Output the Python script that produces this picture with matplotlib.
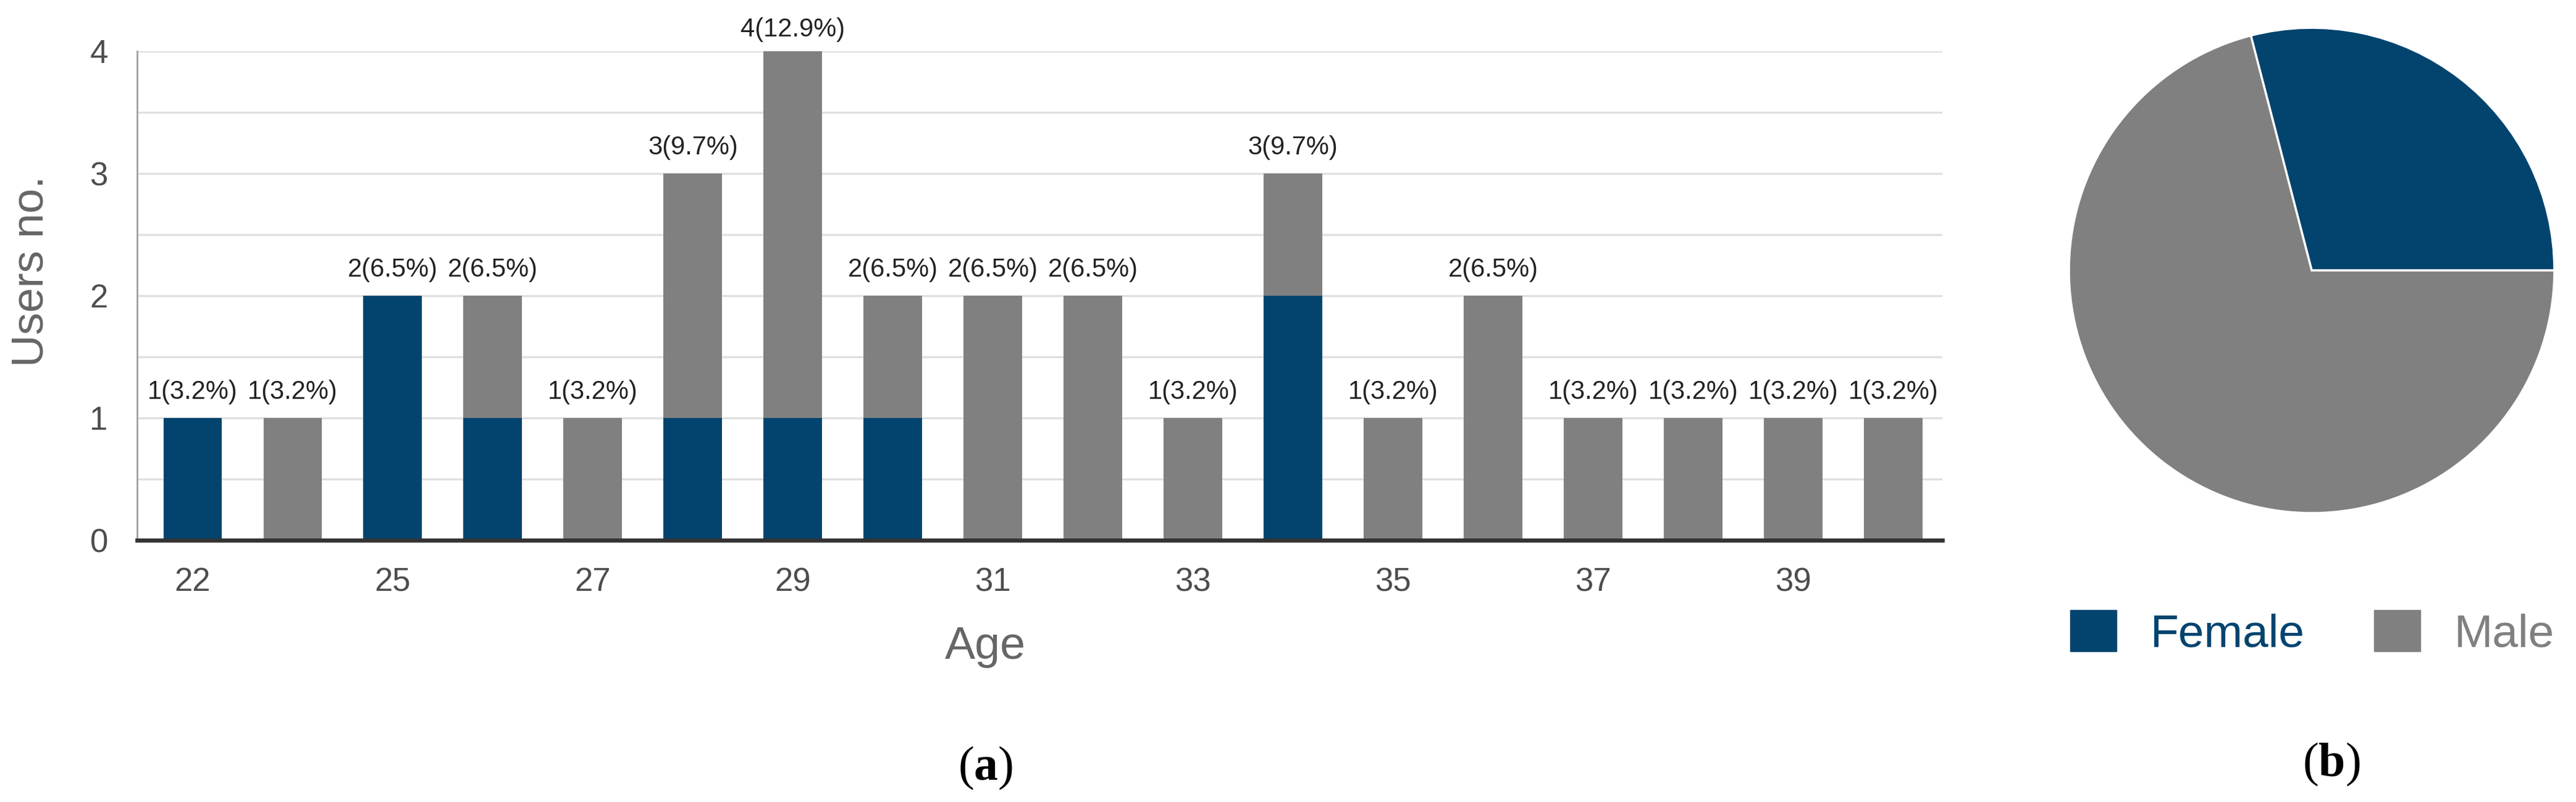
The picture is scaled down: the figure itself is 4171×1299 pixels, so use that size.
import matplotlib
matplotlib.use("Agg")
from matplotlib import pyplot as plt
from matplotlib.patches import Patch
import numpy as np

plt.rcParams['font.family'] = ['Liberation Sans', 'DejaVu Sans']
plt.rcParams['mathtext.fontset'] = 'custom'
plt.rcParams['mathtext.rm'] = 'Liberation Serif'
plt.rcParams['mathtext.bf'] = 'Liberation Serif:bold'

# data
ages = ['22', '24', '25', '26', '27', '28', '29', '30', '31',
        '32', '33', '34', '35', '36', '37', '38', '39', '40']
female = [1, 0, 2, 1, 0, 1, 1, 1, 0, 0, 0, 2, 0, 0, 0, 0, 0, 0]
male = [0, 1, 0, 1, 1, 2, 3, 1, 2, 2, 1, 1, 1, 2, 1, 1, 1, 1]
tick_ages = ['22', '25', '27', '29', '31', '33', '35', '37', '39']
genders = ['Female', 'Male']

BLUE = '#03446f'
GRAY = '#808080'

W, H = 4171, 1299
fig = plt.figure(figsize=(W / 100, H / 100), dpi=100)

# ---- (a) stacked bars ----
ax = fig.add_axes([222 / W, 1 - 875 / H, (3145 - 222) / W, (875 - 83) / H])
x = np.arange(len(ages))
female = np.array(female)
male = np.array(male)
total = female + male
n_users = total.sum()

ax.bar(x, female, width=0.585, color=BLUE, zorder=2)
ax.bar(x, male, width=0.585, bottom=female, color=GRAY, zorder=2)

for xi, t in zip(x, total):
    # top label is squeezed closer to its bar, as in the original
    pad = 11 if t == total.max() else 16
    ax.annotate('%d(%.1f%%)' % (t, 100.0 * t / n_users), (xi, t),
                xytext=(0, pad), textcoords='offset points',
                ha='center', va='bottom', fontsize=30, color='#222222')

ax.set_xlim(-0.555, len(ages) - 0.51)
ax.set_ylim(0, 4)
ax.set_yticks([0, 1, 2, 3, 4])
ax.set_yticks(np.arange(0.5, 4, 1.0), minor=True)
ax.set_xticks([ages.index(a) for a in tick_ages])
ax.set_xticklabels(tick_ages)
ax.grid(axis='y', which='both', color='#e0e0e0', lw=2.4, zorder=0)
ax.tick_params(axis='both', which='both', length=0, labelsize=38,
               labelcolor='#4d4d4d')
ax.tick_params(axis='y', pad=34)
ax.tick_params(axis='x', pad=31)
for s in ['top', 'right']:
    ax.spines[s].set_visible(False)
ax.spines['left'].set_color('#a0a0a0')
ax.spines['left'].set_linewidth(2)
ax.spines['bottom'].set_color('#333333')
ax.spines['bottom'].set_linewidth(4.8)
ax.spines['bottom'].set_zorder(3)

fig.text(70 / W, 1 - 439 / H, 'Users no.', rotation=90, ha='center',
         va='baseline', rotation_mode='anchor', fontsize=52,
         color='#666666')
fig.text(1595 / W, 1 - 1067 / H, 'Age', ha='center', va='baseline',
         fontsize=53, color='#666666')

# ---- (b) pie ----
cx, cy, r = 3743, 438, 393
pax = fig.add_axes([(cx - r) / W, 1 - (cy + r) / H, 2 * r / W, 2 * r / H])
pax.pie([female.sum(), male.sum()], colors=[BLUE, GRAY], startangle=0,
        counterclock=True, radius=1,
        wedgeprops=dict(edgecolor='white', linewidth=2.5))
pax.set_xlim(-1, 1)
pax.set_ylim(-1, 1)

handles = [Patch(color=BLUE), Patch(color=GRAY)]
leg = fig.legend(handles, genders, loc='center',
                 bbox_to_anchor=(3744 / W, 1 - 1025 / H), ncol=2,
                 frameon=False, fontsize=54, handlelength=1, handleheight=1,
                 handletextpad=0.73, columnspacing=1.5)
for txt, c in zip(leg.get_texts(), [BLUE, GRAY]):
    txt.set_color(c)

fig.text(1596 / W, 1 - 1244 / H, r'($\mathbf{a}$)', ha='center', va='center',
         fontsize=56, family='Liberation Serif', color='black')
fig.text(3775 / W, 1 - 1238 / H, r'($\mathbf{b}$)', ha='center', va='center',
         fontsize=56, family='Liberation Serif', color='black')

fig.savefig('out.png', dpi=100)
